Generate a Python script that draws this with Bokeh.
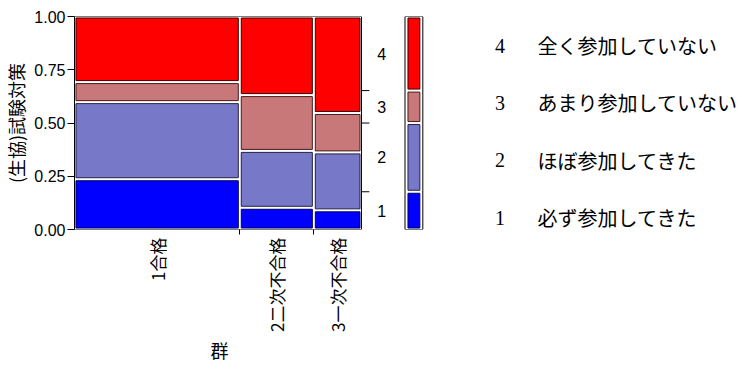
import math
import numpy as np
from bokeh.plotting import figure
from bokeh.models import Range1d, FixedTicker, ColumnDataSource, Title
from bokeh.core.properties import value
from bokeh.embed import file_html
from bokeh.resources import INLINE

# ---- data ----
groups = ["1合格", "2二次不合格", "3一次不合格"]
group_share = [0.576, 0.258, 0.166]
levels = ["1", "2", "3", "4"]
level_labels = ["必ず参加してきた", "ほぼ参加してきた", "あまり参加していない", "全く参加していない"]
prop_1 = [0.236, 0.102, 0.090]
prop_2 = [0.362, 0.267, 0.272]
prop_3 = [0.094, 0.262, 0.185]
prop_4 = [0.308, 0.369, 0.453]
level_colors = ["#0000FF", "#7878C8", "#C87878", "#FF0000"]
level_lines = ["#000060", "#202048", "#4A1A1A", "#3A0000"]

ylabel = "(生協)試験対策"
xlabel = "群"
ytick_vals = [0.0, 0.25, 0.5, 0.75, 1.0]

# ---- layout constants (pixels) ----
W, H = 736, 362
FL, FT, FW, FH = 67, 16, 290, 213
FB = H - FT - FH
CJK = "Noto Sans CJK JP"
px = 1.0 / FW          # one pixel in x data units
py = 1.0 / FH          # one pixel in y data units

props = np.array([prop_1, prop_2, prop_3, prop_4])  # levels x groups
props = props / props.sum(axis=0)
share = np.array(group_share) / sum(group_share)
xcum = np.concatenate([[0], np.cumsum(share)])
ycum = np.vstack([np.zeros(len(groups)), np.cumsum(props, axis=0)])

p = figure(width=W, height=H, output_backend="svg", toolbar_location=None,
           x_range=Range1d(0, (W - FL) * px), y_range=Range1d(0, 1),
           min_border_left=FL, min_border_right=0,
           min_border_top=FT, min_border_bottom=FB,
           x_axis_location="below", y_axis_location="left")
p.grid.visible = False
p.outline_line_color = None

# mosaic frame
p.quad(left=[0], right=[1], bottom=[0], top=[1], fill_color=None,
       line_color="black", line_width=1)

L, R, B, T, C, LC = [], [], [], [], [], []
for g in range(len(groups)):
    for j in range(len(levels)):
        L.append(xcum[g] + 1.5 * px); R.append(xcum[g + 1] - 1.5 * px)
        B.append(ycum[j, g] + 1.5 * py); T.append(ycum[j + 1, g] - 1.5 * py)
        C.append(level_colors[j]); LC.append(level_lines[j])
src = ColumnDataSource(dict(left=L, right=R, bottom=B, top=T, color=C, lc=LC))
p.quad(left="left", right="right", bottom="bottom", top="top", source=src,
       fill_color="color", line_color="lc", line_width=1)

# left axis
ya = p.yaxis[0]
ya.ticker = FixedTicker(ticks=ytick_vals, minor_ticks=[])
ya.major_label_overrides = {v: f"{v:.2f}" for v in ytick_vals}
ya.major_label_text_font = "Liberation Sans"
ya.major_label_text_font_size = "16px"
ya.major_label_text_color = "black"
ya.major_tick_out = 7
ya.major_tick_in = 0
ya.major_label_standoff = 2
ya.axis_line_color = "black"
ya.axis_label = ylabel
ya.axis_label_text_font = CJK
ya.axis_label_text_font_size = "18px"
ya.axis_label_text_font_style = "normal"
ya.axis_label_text_color = "black"
ya.axis_label_standoff = 2

# bottom axis
centers = [round(float((xcum[i] + xcum[i + 1]) / 2), 4) for i in range(len(groups))]
bounds = [round(float(v), 4) for v in xcum[1:-1]]
xa = p.xaxis[0]
xa.ticker = FixedTicker(ticks=centers, minor_ticks=bounds)
xa.major_label_overrides = {c: g for c, g in zip(centers, groups)}
xa.major_label_orientation = math.pi / 2
xa.major_label_text_font = CJK
xa.major_label_text_font_size = "17px"
xa.major_label_text_color = "black"
xa.major_tick_line_color = None
xa.major_tick_out = 5
xa.minor_tick_out = 5
xa.minor_tick_in = 0
xa.major_label_standoff = 3
xa.axis_line_color = None

# x axis title, centred under the mosaic (as a below-title)
p.add_layout(Title(text=xlabel, align="left", offset=FW / 2 - 9,
                   text_font=CJK, text_font_size="18px",
                   text_font_style="normal", text_color="black",
                   standoff=0), "below")

# right-side marginal axis
marg = props @ share
mcum = np.concatenate([[0], np.cumsum(marg)])
mcent = [(mcum[j] + mcum[j + 1]) / 2 for j in range(len(levels))]
mb = list(mcum[1:-1])
p.segment(x0=[1] * len(mb), x1=[1 + 8 * px] * len(mb), y0=mb, y1=mb,
          line_color="black", line_width=1)
p.text(x=[1 + 16 * px] * len(levels), y=mcent, text=levels,
       text_font=value("Liberation Sans"), text_font_size="16px",
       text_baseline="middle", text_align="left", text_color="black")

# legend bar (marginal distribution)
bx0, bx1 = 1 + 44 * px, 1 + 62 * px
p.quad(left=[bx0], right=[bx1], bottom=[0], top=[1], fill_color="white",
       line_color="black", line_width=1)
lsrc = ColumnDataSource(dict(left=[bx0 + 3 * px] * 4, right=[bx1 - 3 * px] * 4,
                             bottom=[mcum[j] + 1.5 * py for j in range(4)],
                             top=[mcum[j + 1] - 1.5 * py for j in range(4)],
                             color=level_colors, lc=level_lines))
p.quad(left="left", right="right", bottom="bottom", top="top", source=lsrc,
       fill_color="color", line_color="lc", line_width=1)

# legend text
ty = [0.056 + j * 0.269 for j in range(4)]
p.text(x=[1 + 135 * px] * 4, y=ty, text=levels, text_font=value("Liberation Serif"),
       text_font_size="20px", text_baseline="middle", text_align="left",
       text_color="black")
p.text(x=[1 + 178 * px] * 4, y=ty, text=level_labels, text_font=value(CJK),
       text_font_size="20px", text_baseline="middle", text_align="left",
       text_color="black")

open("out.html", "w").write(file_html(p, INLINE))
